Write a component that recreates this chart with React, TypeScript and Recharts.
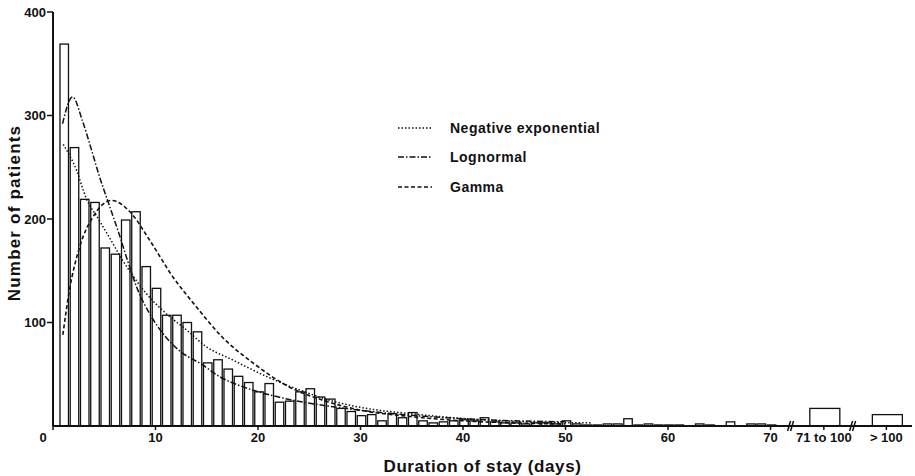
import { ComposedChart, Bar, Line, XAxis, YAxis, Legend, ReferenceDot, Label } from 'recharts'

// patients per day of stay, days 1..70
const dailyCounts = [
  369, 269, 219, 216, 172, 166, 199, 207, 154, 133,
  107, 107, 100, 91, 61, 64, 55, 48, 42, 33,
  41, 23, 24, 33, 36, 28, 26, 17, 14, 10,
  11, 5, 12, 8, 13, 5, 3, 4, 5, 6,
  5, 8, 4, 3, 3, 2, 3, 3, 2, 5,
  2, 1, 1, 2, 2, 7, 1, 2, 1, 1,
  1, 0, 2, 1, 0, 4, 0, 2, 2, 1,
]
const days = dailyCounts.map((_, i) => i + 1)

// grouped bins past the axis breaks
const groupLabels = ['71 to 100', '> 100']
const groupCounts = [17, 11]
const groupTicks = [75.2, 81.3]
const axisBreaks = [72.05, 78.1]

const dayTicks = [0, 10, 20, 30, 40, 50, 60, 70]
const countTicks = [100, 200, 300, 400]

// fitted curves
const expDays = [1.0, 2.3, 3.2, 4.5, 5.8, 6.8, 7.6, 9.1, 11, 13, 14.9, 17.5, 20.8, 24, 27.3, 30, 34.8, 39.7, 46.2, 52.6]
const expValues = [272, 247, 221, 199, 177, 160, 148, 128, 109, 93, 77, 64, 48, 35, 24, 18, 12, 7.5, 4, 3]

const logDays = [0.93, 1.9, 2.9, 3.75, 4.5, 5.5, 6.5, 7.3, 8.25, 9.4, 11, 12.3, 14.6, 16.2, 18.5, 22, 27, 32, 40, 50]
const logValues = [292, 318, 294, 267, 242, 213, 184, 159, 132, 109, 86, 73, 59, 48, 38, 28, 19, 13, 7, 4]

const gammaDays = [0.96, 1.6, 2.6, 3.9, 5.7, 7.5, 9.4, 11.7, 14, 16.5, 19.5, 23, 26.3, 29.9, 35, 40, 45, 50]
const gammaValues = [88, 131, 173, 202, 218, 207, 180, 144, 115, 86, 61, 38, 25, 15.5, 9, 5, 3, 2]

const curveNames = ['Negative exponential', 'Lognormal', 'Gamma']

const barData = [
  ...days.map((d, i) => ({ day: d, count: dailyCounts[i], group: false })),
  ...groupTicks.map((d, i) => ({ day: d, count: groupCounts[i], group: true })),
]
const toSeries = (xs: number[], ys: number[]) => xs.map((d, i) => ({ day: d, v: ys[i] }))
const expData = toSeries(expDays, expValues)
const logData = toSeries(logDays, logValues)
const gammaData = toSeries(gammaDays, gammaValues)

const FONT = '"Liberation Sans", Arial, sans-serif'
const INK = '#111'

const lineStyles: Record<string, string> = {
  'Negative exponential': '1.5 2',
  Lognormal: '6 2 1.5 2',
  Gamma: '4 2.5',
}

function HistBar(props: any) {
  const { x, y, width, height, payload } = props
  if (!height || height <= 0) return null
  const w = payload.group ? 30 : 8.5
  const cx = x + width / 2 + 1
  return <rect x={cx - w / 2} y={y} width={w} height={height} fill="#fff" stroke={INK} strokeWidth={1.3} />
}

function DayTick(props: any) {
  const { x, y, payload } = props
  const v = payload.value
  const gi = groupTicks.indexOf(v)
  const text = gi >= 0 ? groupLabels[gi] : String(v)
  const dx = v === 0 ? -10 : 0
  return (
    <text x={x + dx} y={y} dy="0.71em" textAnchor="middle" fontFamily={FONT} fontWeight="bold" fontSize={13} fill={INK}>
      {text}
    </text>
  )
}

function BreakMark(props: any) {
  const { cx, cy } = props
  return (
    <g stroke={INK} strokeWidth={1.5}>
      <line x1={cx - 4} y1={cy + 5} x2={cx - 1} y2={cy - 5} />
      <line x1={cx - 1} y1={cy + 5} x2={cx + 2} y2={cy - 5} />
    </g>
  )
}

function CurveLegend() {
  return (
    <div style={{ fontFamily: FONT, fontWeight: 'bold', fontSize: 14, letterSpacing: 0.5, color: INK }}>
      {curveNames.map((name) => (
        <div key={name} style={{ display: 'flex', alignItems: 'center', height: 29.5 }}>
          <svg width={52} height={10}>
            <line x1={0} y1={5} x2={34} y2={5} stroke={INK} strokeWidth={1.5} strokeDasharray={lineStyles[name]} />
          </svg>
          <span>{name}</span>
        </div>
      ))}
    </div>
  )
}

export default function App() {
  return (
    <div style={{ position: 'absolute', left: 0, top: 0, width: 915, height: 476, background: '#fff' }}>
      <ComposedChart width={915} height={476} data={barData} margin={{ top: 12, right: 3, bottom: 0, left: 0 }}>
        <XAxis
          dataKey="day"
          type="number"
          domain={[0, 83.8]}
          ticks={[...dayTicks, ...groupTicks]}
          tick={<DayTick />}
          tickSize={4}
          tickMargin={3}
          height={50}
          axisLine={{ stroke: INK, strokeWidth: 2 }}
          tickLine={{ stroke: INK, strokeWidth: 1.5 }}
          allowDataOverflow
        >
          <Label value="Duration of stay (days)" position="insideBottom" offset={4}
            style={{ fontFamily: FONT, fontWeight: 'bold', fontSize: 17, letterSpacing: 0.6, fill: INK }} />
        </XAxis>
        <YAxis
          type="number"
          domain={[0, 400]}
          ticks={countTicks}
          width={53}
          tickSize={6}
          tickMargin={1}
          axisLine={{ stroke: INK, strokeWidth: 2 }}
          tickLine={{ stroke: INK, strokeWidth: 1.5 }}
          tick={{ fontFamily: FONT, fontWeight: 'bold', fontSize: 13, fill: INK }}
        >
          <Label
            content={({ viewBox }: any) => {
              const cx = 14
              const cy = viewBox.y + viewBox.height / 2 - 6
              return (
                <text x={cx} y={cy} transform={`rotate(-90, ${cx}, ${cy})`} textAnchor="middle" dominantBaseline="central"
                  fontFamily={FONT} fontWeight="bold" fontSize={17} letterSpacing={1.2} fill={INK}>
                  Number of patients
                </text>
              )
            }}
          />
        </YAxis>
        <Legend
          layout="vertical"
          align="center"
          verticalAlign="middle"
          content={<CurveLegend />}
          wrapperStyle={{ left: 398, top: 113, width: 260 }}
        />
        <Bar dataKey="count" barSize={9} shape={<HistBar />} isAnimationActive={false} legendType="none" />
        <Line data={expData} dataKey="v" name="Negative exponential" type="monotone" stroke={INK} strokeWidth={1.5}
          strokeDasharray={lineStyles['Negative exponential']} dot={false} activeDot={false} isAnimationActive={false} />
        <Line data={logData} dataKey="v" name="Lognormal" type="monotone" stroke={INK} strokeWidth={1.5}
          strokeDasharray={lineStyles.Lognormal} dot={false} activeDot={false} isAnimationActive={false} />
        <Line data={gammaData} dataKey="v" name="Gamma" type="monotone" stroke={INK} strokeWidth={1.6}
          strokeDasharray={lineStyles.Gamma} dot={false} activeDot={false} isAnimationActive={false} />
        {axisBreaks.map((b) => (
          <ReferenceDot key={b} x={b} y={0} r={0} ifOverflow="visible" shape={<BreakMark />} />
        ))}
      </ComposedChart>
    </div>
  )
}
